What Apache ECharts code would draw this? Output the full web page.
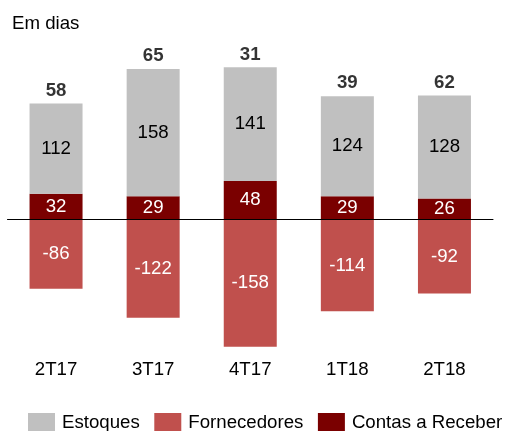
<!DOCTYPE html>
<html>
<head>
<meta charset="utf-8">
<script src="https://cdn.jsdelivr.net/npm/echarts@6/dist/echarts.min.js"></script>
<style>
    html, body { margin: 0; padding: 0; background: #fff; }
    #main { width: 506px; height: 431px; }
</style>
</head>
<body>
<div id="main"></div>
<script>
    var trimestres = ['2T17', '3T17', '4T17', '1T18', '2T18'];
    var estoques = [112, 158, 141, 124, 128];
    var contasReceber = [32, 29, 48, 29, 26];
    var fornecedores = [-86, -122, -158, -114, -92];
    var cicloCaixa = [58, 65, 31, 39, 62];  // total em cima de cada barra

    var fonte = 'Liberation Sans, Arial, sans-serif';
    var tam = 18.67;

    // topo da parte positiva, onde fica o total
    var topos = [];
    for (var i = 0; i < trimestres.length; i++) {
        topos.push(estoques[i] + contasReceber[i]);
    }

    var myChart = echarts.init(document.getElementById('main'));
    var option = {
        animation: false,
        textStyle: { fontFamily: fonte },
        title: {
            text: 'Em dias',
            left: 12,
            top: 14,
            padding: 0,
            textStyle: { fontFamily: fonte, fontSize: tam, fontWeight: 'normal', color: '#000' }
        },
        legend: {
            data: ['Estoques', 'Fornecedores', 'Contas a Receber'],
            left: 28,
            top: 413,
            width: 478,
            padding: 0,
            itemWidth: 27,
            itemHeight: 20,
            itemGap: 14.5,
            icon: 'rect',
            textStyle: { fontFamily: fonte, fontSize: tam, color: '#000', padding: [0, 0, 0, 2] }
        },
        grid: { left: 7.5, right: 13, top: 58.5, bottom: 74.6 },
        xAxis: [
            {
                type: 'category',
                data: trimestres,
                z: 10,
                axisLine: { onZero: true, lineStyle: { color: '#000', width: 1 } },
                axisTick: { show: false },
                axisLabel: { show: false }
            },
            {
                type: 'category',
                data: trimestres,
                position: 'bottom',
                axisLine: { show: false },
                axisTick: { show: false },
                axisLabel: { margin: 4, fontFamily: fonte, fontSize: tam, color: '#000' }
            }
        ],
        yAxis: {
            type: 'value',
            min: -170,
            max: 200,
            show: false,
            splitLine: { show: false }
        },
        series: [
            {
                name: 'Contas a Receber',
                type: 'bar',
                stack: 'total',
                barWidth: 53,
                data: contasReceber,
                itemStyle: { color: '#7A0000' },
                label: { show: true, position: 'inside', color: '#fff', fontFamily: fonte, fontSize: tam }
            },
            {
                name: 'Estoques',
                type: 'bar',
                stack: 'total',
                barWidth: 53,
                data: estoques,
                itemStyle: { color: '#C0C0C0' },
                label: { show: true, position: 'inside', color: '#000', fontFamily: fonte, fontSize: tam }
            },
            {
                name: 'Fornecedores',
                type: 'bar',
                stack: 'total',
                barWidth: 53,
                data: fornecedores,
                itemStyle: { color: '#C0504D' },
                label: { show: true, position: 'inside', color: '#fff', fontFamily: fonte, fontSize: tam }
            },
            {
                name: 'Total',
                type: 'scatter',
                data: topos,
                symbolSize: 1,
                itemStyle: { color: 'rgba(0,0,0,0)' },
                silent: true,
                z: 5,
                label: {
                    show: true,
                    position: 'top',
                    distance: 3,
                    color: '#000',
                    fontFamily: fonte,
                    fontSize: tam,
                    fontWeight: 'bold',
                    formatter: function (p) {
                        return cicloCaixa[p.dataIndex];
                    }
                }
            }
        ]
    };
    myChart.setOption(option);
</script>
</body>
</html>
